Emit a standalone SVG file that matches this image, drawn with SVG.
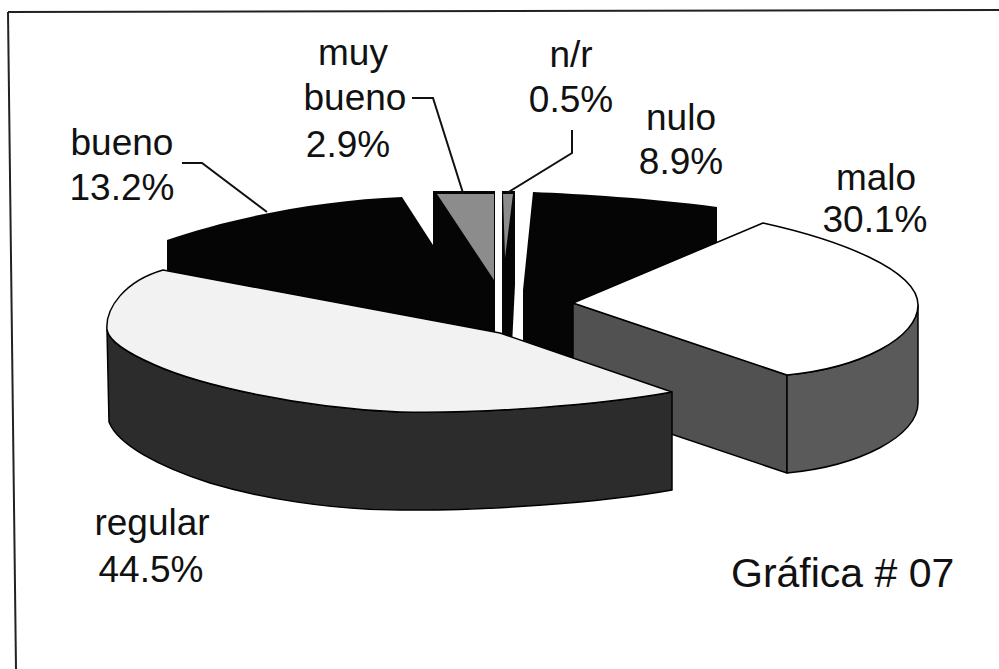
<svg xmlns="http://www.w3.org/2000/svg" width="999" height="669" viewBox="0 0 999 669">
<style>
.lbl{font-family:"Liberation Sans",Arial,sans-serif;font-size:37px;fill:#111;text-anchor:middle}
.title{font-family:"Liberation Sans",Arial,sans-serif;font-size:41px;fill:#111}
.blk{fill:#050505}
.grey{fill:#8c8c8c}
.edge{stroke:#000;stroke-width:1.5;stroke-linejoin:round}
.lead{fill:none;stroke:#111;stroke-width:2}
.frame{fill:none;stroke:#222;stroke-width:2}
</style>
<rect width="999" height="669" fill="#fff"/>
<g id="frame">
<line class="frame" x1="8" y1="12" x2="999" y2="10"/>
<line class="frame" x1="8" y1="12" x2="16" y2="669"/>
</g>
<g id="slice-bueno">
<path class="blk" d="M167,240 C230,218 320,200 402,197 L433,245 L433,191 L495,191 L495,350 L167,290 Z"/>
<text class="lbl" x="122" y="155">bueno</text>
<text class="lbl" x="122" y="200">13.2%</text>
</g>
<g id="slice-muy-bueno">
<polygon class="grey" points="437,194 494,194 494,280"/>
<text class="lbl" x="353" y="65">muy</text>
<text class="lbl" x="355" y="110">bueno</text>
<text class="lbl" x="348" y="157">2.9%</text>
</g>
<g id="slice-nr">
<path class="blk" d="M502,191 L515,191 L515,285 L512,345 L502,345 Z"/>
<polygon class="grey" points="503,194 513,194 505,258"/>
<text class="lbl" x="571" y="67">n/r</text>
<text class="lbl" x="571" y="112">0.5%</text>
</g>
<g id="slice-nulo">
<path class="blk" d="M533,192 C580,194 650,198 717,207 L717,246 L573,303 L573,375 L523,350 L523,290 Z"/>
<text class="lbl" x="681" y="130">nulo</text>
<text class="lbl" x="681" y="174">8.9%</text>
</g>
<g id="slice-malo">
<path d="M573,303 L787,375 L787,473 L573,401 Z" fill="#515151" class="edge"/>
<path d="M787,375 C860,368 918,338 918,305 L918,403 C918,436 860,466 787,473 Z" fill="#5a5a5a" class="edge"/>
<path d="M573,303 L763,223 C840,240 918,270 918,305 C918,338 860,368 787,375 Z" fill="#fff" class="edge"/>
<text class="lbl" x="876" y="190">malo</text>
<text class="lbl" x="875" y="232">30.1%</text>
</g>
<g id="slice-regular">
<path d="M672,392 C600,405 480,414 400,412 C300,408 200,385 155,365 C125,352 109,340 107,330 L109,422 C118,445 160,467 210,483 C260,498 330,510 400,510 C480,511 600,503 672,490 Z" fill="#2c2c2c" class="edge"/>
<path d="M163,270 L500,333 L672,392 C600,405 480,414 400,412 C300,408 200,385 155,365 C125,352 109,340 107,330 C105,308 125,281 163,270 Z" fill="#f2f2f2" class="edge"/>
<text class="lbl" x="152" y="535">regular</text>
<text class="lbl" x="151" y="582">44.5%</text>
</g>
<g id="connectors">
<polyline class="lead" points="182,163 202,163 267,212"/>
<polyline class="lead" points="412,98 433,98 463,193"/>
<polyline class="lead" points="572,130 572,153 507,193"/>
</g>
<g id="caption">
<text class="title" x="731" y="587">Gráfica # 07</text>
</g>
</svg>
